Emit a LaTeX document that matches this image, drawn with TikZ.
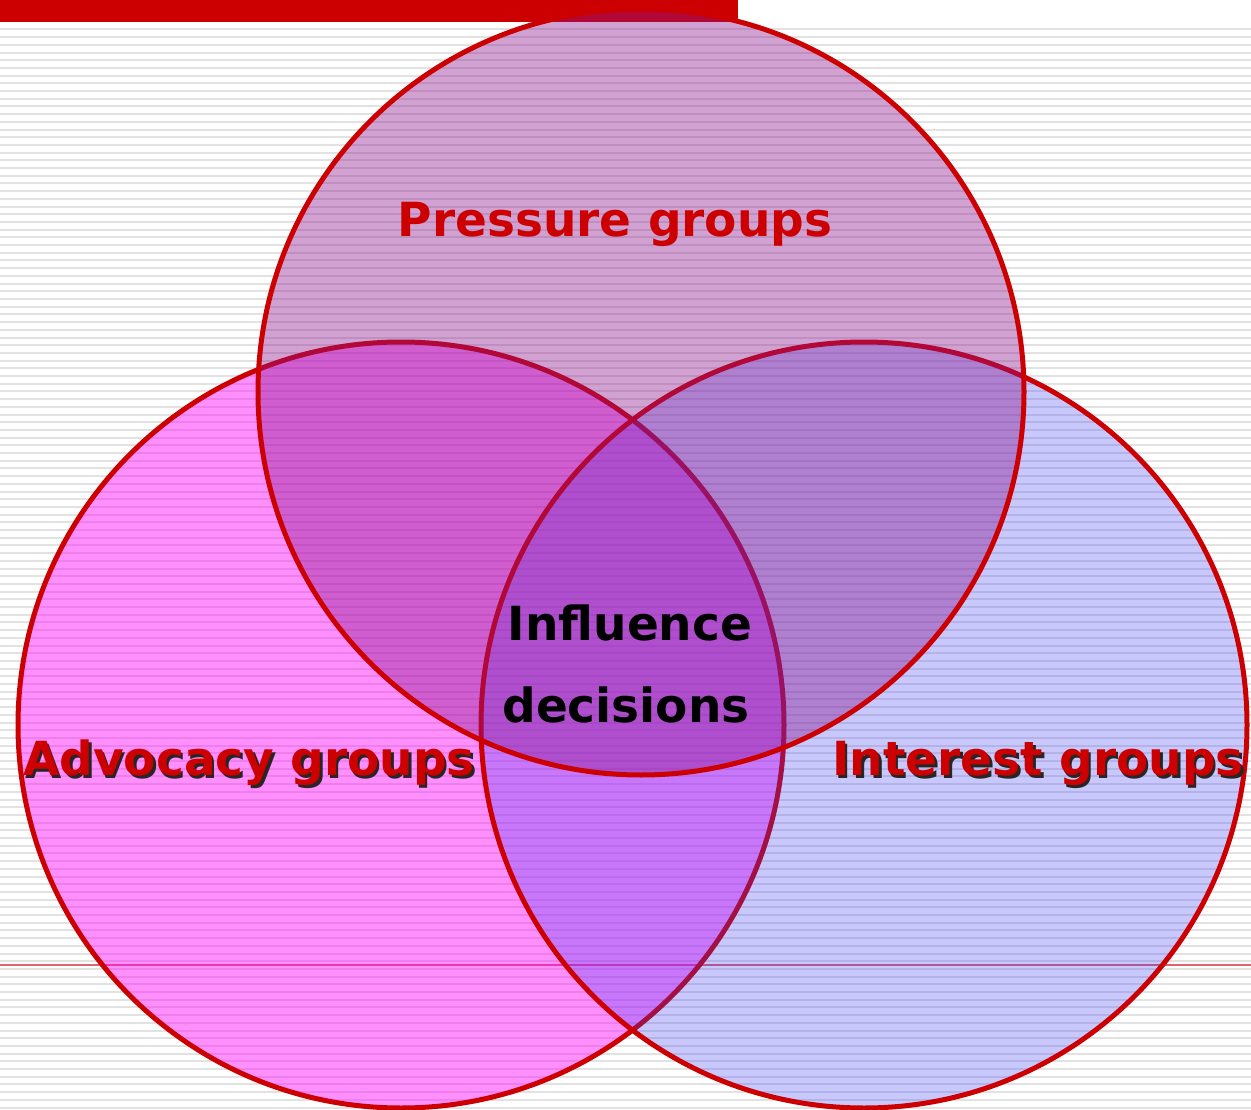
\documentclass[tikz,border=0pt]{standalone}
\usepackage{fontspec}
\setmainfont{DejaVu Sans}
\usetikzlibrary{positioning}

\definecolor{barred}{RGB}{204,0,0}
\definecolor{stripe}{RGB}{226,226,226}
\definecolor{ruleline}{RGB}{222,100,112}
\definecolor{pressurefill}{RGB}{140,20,140}
\definecolor{advocacyfill}{RGB}{255,0,250}
\definecolor{interestfill}{RGB}{58,58,245}

\begin{document}
\begin{tikzpicture}[x=1pt,y=-1pt,
  setcircle/.style={circle, draw=barred, line width=5pt, minimum size=766pt, inner sep=0pt},
  setlabel/.style={font=\bfseries\fontsize{47}{56}\selectfont, anchor=base, inner sep=0pt},
  grouplabel/.style={setlabel, text=barred},
  shadowlabel/.style={setlabel, text=black!85}]
 \useasboundingbox (0,0) rectangle (1251,1110);
 % background stripes and rules
 \foreach \y in {29.5,37.2,...,1110}
  \draw[stripe, line width=2pt] (0,\y) -- (1251,\y);
 \fill[barred] (0,0) rectangle (738,22);
 \draw[ruleline, line width=2pt] (0,965) -- (1251,965);
 % the three sets
 \node (advocacy) [setcircle, fill=advocacyfill, fill opacity=0.44] at (401,725) {};
 \node (interest) [setcircle, fill=interestfill, fill opacity=0.28] at (864,725) {};
 \node (pressure) [setcircle, fill=pressurefill, fill opacity=0.4] at (641,392) {};
 % labels
 \node (pressure label) [grouplabel] at (615,237) {Pressure groups};
 \node (advocacy shadow) [shadowlabel] at (251.5,778) {Advocacy groups};
 \node (advocacy label) [grouplabel] at (249,775.5) {Advocacy groups};
 \node (interest shadow) [shadowlabel] at (1040.5,778) {Interest groups};
 \node (interest label) [grouplabel] at (1038,775.5) {Interest groups};
 \node (influence) [setlabel] at (630,640) {Influence};
 \node (decisions) [setlabel] at (626,722) {decisions};
\end{tikzpicture}
\end{document}
